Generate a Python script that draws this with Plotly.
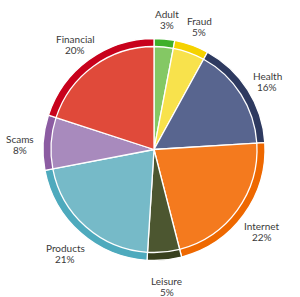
import math
import plotly.graph_objects as go

labels = ["Adult", "Fraud", "Health", "Internet", "Leisure", "Products", "Scams", "Financial"]
values = [3, 5, 16, 22, 5, 21, 8, 20]
inner_colors = ["#84c864", "#f8e24c", "#58658f", "#f47a1e", "#4c5630", "#76bac8", "#a88abd", "#e04a3a"]
rim_colors = ["#3fb02a", "#f5d200", "#2e3a60", "#ee6800", "#38401e", "#4eaabd", "#8c5ca2", "#c8021c"]

W, H = 300, 297
cx, cy, R, r_in = 154, 149.5, 111, 103
label_r = 134
label_cy = cy + 3.5

def dom(rad):
    yb = H - cy
    return dict(x=[(cx - rad) / W, (cx + rad) / W], y=[(yb - rad) / H, (yb + rad) / H])

fig = go.Figure()
fig.add_trace(go.Pie(
    labels=labels, values=values, sort=False, direction="clockwise", rotation=0,
    marker=dict(colors=rim_colors, line=dict(color="white", width=1.3)),
    domain=dom(R), textinfo="none", hoverinfo="skip",
))
fig.add_trace(go.Pie(
    labels=labels, values=values, sort=False, direction="clockwise", rotation=0,
    marker=dict(colors=inner_colors, line=dict(color="white", width=1.3)),
    domain=dom(r_in), textinfo="none", hoverinfo="skip",
))

total = sum(values)
cum = 0
annotations = []
for lab, v in zip(labels, values):
    mid = (cum + v / 2) / total * 2 * math.pi
    cum += v
    px = cx + label_r * math.sin(mid)
    py = (H - label_cy) + label_r * math.cos(mid)
    pct = f"{round(v / total * 100)}%"
    for txt, shift in ((lab, 5.5), (pct, -5.5)):
        annotations.append(dict(
            x=px / W, y=py / H, xref="paper", yref="paper", text=txt,
            showarrow=False, xanchor="center", yanchor="middle", yshift=shift,
            font=dict(family="Lato", size=10, color="#3a3a3a"),
        ))

fig.update_layout(
    width=W, height=H, margin=dict(l=0, r=0, t=0, b=0),
    showlegend=False, paper_bgcolor="white", plot_bgcolor="white",
    annotations=annotations,
)
fig.write_html("out.html")
